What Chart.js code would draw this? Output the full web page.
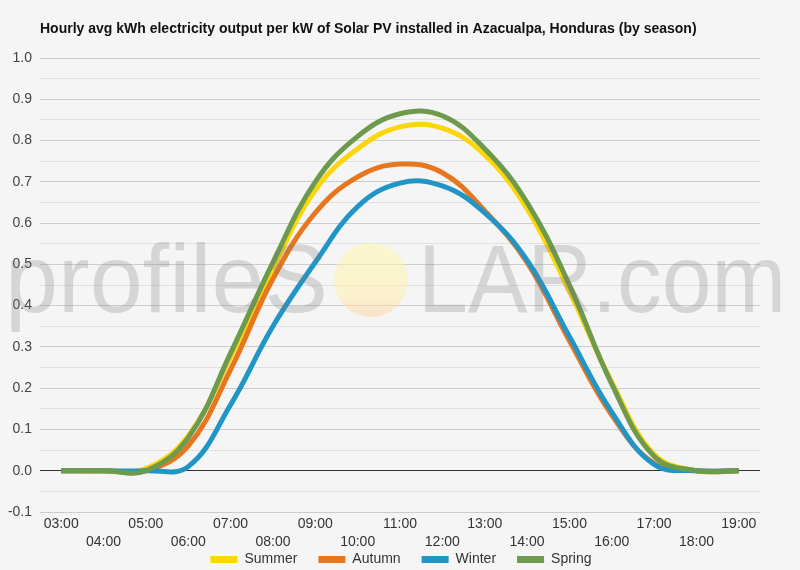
<!DOCTYPE html>
<html>
<head>
<meta charset="utf-8">
<script src="https://cdn.jsdelivr.net/npm/chart.js@4/dist/chart.umd.min.js"></script>
<style>
  html, body { margin: 0; padding: 0; background: #f5f5f5; }
  canvas { display: block; }
</style>
</head>
<body>
<canvas id="c" width="800" height="570"></canvas>
<script>
const titleText = 'Hourly avg kWh electricity output per kW of Solar PV installed in Azacualpa, Honduras (by season)';
const hours = ['03:00','04:00','05:00','06:00','07:00','08:00','09:00','10:00','11:00','12:00','13:00','14:00','15:00','16:00','17:00','18:00','19:00'];
const summer = [0, 0, 0.005, 0.085, 0.275, 0.49, 0.68, 0.78, 0.833, 0.83, 0.765, 0.635, 0.435, 0.215, 0.04, 0, 0];
const autumn = [0, 0, 0, 0.06, 0.245, 0.465, 0.625, 0.712, 0.743, 0.722, 0.63, 0.505, 0.315, 0.135, 0.018, 0, 0];
const winter = [0, 0, 0, 0.01, 0.16, 0.35, 0.505, 0.64, 0.697, 0.69, 0.625, 0.51, 0.325, 0.142, 0.015, 0, 0];
const spring = [0, 0, 0, 0.08, 0.285, 0.505, 0.70, 0.81, 0.865, 0.86, 0.78, 0.65, 0.45, 0.21, 0.035, 0, 0];
const seriesNames = ['Summer', 'Autumn', 'Winter', 'Spring'];
const seriesColors = ['#fcd50a', '#e8761f', '#2196c6', '#6d9a4c'];
const yMin = -0.1, yMax = 1.0, yStep = 0.05;

const LEGEND_PAD = 21;
const LEGEND_CENTER_Y = 561;
const LEGEND_SHIFT_X = 21;

const bgPlugin = {
  id: 'bg',
  beforeDraw(chart) {
    const c = chart.ctx;
    c.save();
    c.fillStyle = '#f5f5f5';
    c.fillRect(0, 0, chart.width, chart.height);
    c.restore();
  },
  afterDraw(chart) {
    const c = chart.ctx;
    c.save();
    c.font = 'bold 14px "Liberation Sans", Arial, sans-serif';
    c.fillStyle = '#111';
    c.textBaseline = 'alphabetic';
    c.textAlign = 'left';
    c.fillText(titleText, 40, 33);
    c.restore();
  }
};

// keep the legend compact in the layout, then place its row at the reference position
const legendPlacePlugin = {
  id: 'legendPlace',
  beforeLayout(chart) {
    const lg = chart.legend;
    if (lg && !lg._compactFit) {
      const f = lg.fit.bind(lg);
      lg.fit = function () { f(); if (this.isHorizontal()) this.height = 18; };
      lg._compactFit = true;
    }
  },
  afterLayout(chart) {
    const lg = chart.legend;
    if (!lg) return;
    lg.top = LEGEND_CENTER_Y - LEGEND_PAD - 14 * 1.2 / 2;
    lg.bottom = lg.top + 60;
    lg.left += LEGEND_SHIFT_X;
    lg.right += LEGEND_SHIFT_X;
  }
};

const watermarkPlugin = {
  id: 'watermark',
  afterDatasetsDraw(chart) {
    const c = chart.ctx;
    c.save();
    const g = c.createLinearGradient(0, 243, 0, 317);
    g.addColorStop(0, 'rgba(255,248,170,0.55)');
    g.addColorStop(0.7, 'rgba(255,240,170,0.5)');
    g.addColorStop(1, 'rgba(255,205,160,0.5)');
    c.fillStyle = g;
    c.beginPath();
    c.arc(371, 280, 37, 0, Math.PI * 2);
    c.fill();
    c.fillStyle = 'rgba(120,120,120,0.25)';
    c.font = '96px "Liberation Sans", Arial, sans-serif';
    c.textBaseline = 'alphabetic';
    c.textAlign = 'left';
    c.fillText('profileS', 5, 312, 323);
    c.fillText('LAR.com', 418, 312, 368);
    c.restore();
  }
};

new Chart(document.getElementById('c'), {
  type: 'line',
  data: {
    labels: hours,
    datasets: seriesNames.map((n, i) => ({
      label: n,
      data: [summer, autumn, winter, spring][i],
      borderColor: seriesColors[i],
      backgroundColor: seriesColors[i],
      borderWidth: 5,
      pointRadius: 0,
      pointHoverRadius: 0,
      tension: 0.4,
      fill: false,
      order: seriesNames.length - i
    }))
  },
  options: {
    responsive: false,
    animation: false,
    layout: { padding: { top: 58, left: 0, right: 40, bottom: 2 } },
    plugins: {
      title: { display: false },
      tooltip: { enabled: false },
      legend: {
        position: 'bottom',
        labels: {
          boxWidth: 27,
          boxHeight: 7,
          padding: LEGEND_PAD,
          color: '#333',
          font: { size: 14, family: '"Liberation Sans", Arial, sans-serif' },
          generateLabels: chart =>
            Chart.defaults.plugins.legend.labels.generateLabels(chart)
              .map(l => Object.assign(l, { lineWidth: 0 }))
              .sort((a, b) => a.datasetIndex - b.datasetIndex)
        }
      }
    },
    scales: {
      x: {
        type: 'category',
        offset: true,
        grid: { display: false, drawTicks: false, tickLength: 0 },
        border: { display: false },
        ticks: {
          autoSkip: false,
          maxRotation: 0,
          minRotation: 0,
          padding: 3,
          color: '#333',
          font: { size: 14, family: '"Liberation Sans", Arial, sans-serif', lineHeight: 1.3 },
          callback: (v, i) => (i % 2 === 0 ? [hours[i], ''] : ['', hours[i]])
        },
        afterFit: s => { s.height = 38; }
      },
      y: {
        min: yMin,
        max: yMax,
        border: { display: false },
        grid: {
          drawTicks: false,
          lineWidth: 1,
          color: ctx => {
            const v = Math.round(ctx.tick.value * 100);
            if (v === 0) return '#333333';
            if (v % 10 === 0) return '#cccccc';
            return '#e0e0e0';
          }
        },
        ticks: {
          stepSize: yStep,
          padding: 8,
          color: '#444',
          font: { size: 14, family: '"Liberation Sans", Arial, sans-serif' },
          callback: v => {
            const r = Math.round(v * 100);
            return r % 10 === 0 ? (r / 100).toFixed(1) : '';
          }
        },
        afterFit: s => { s.width = 40; }
      }
    }
  },
  plugins: [bgPlugin, legendPlacePlugin, watermarkPlugin]
});
</script>
</body>
</html>
